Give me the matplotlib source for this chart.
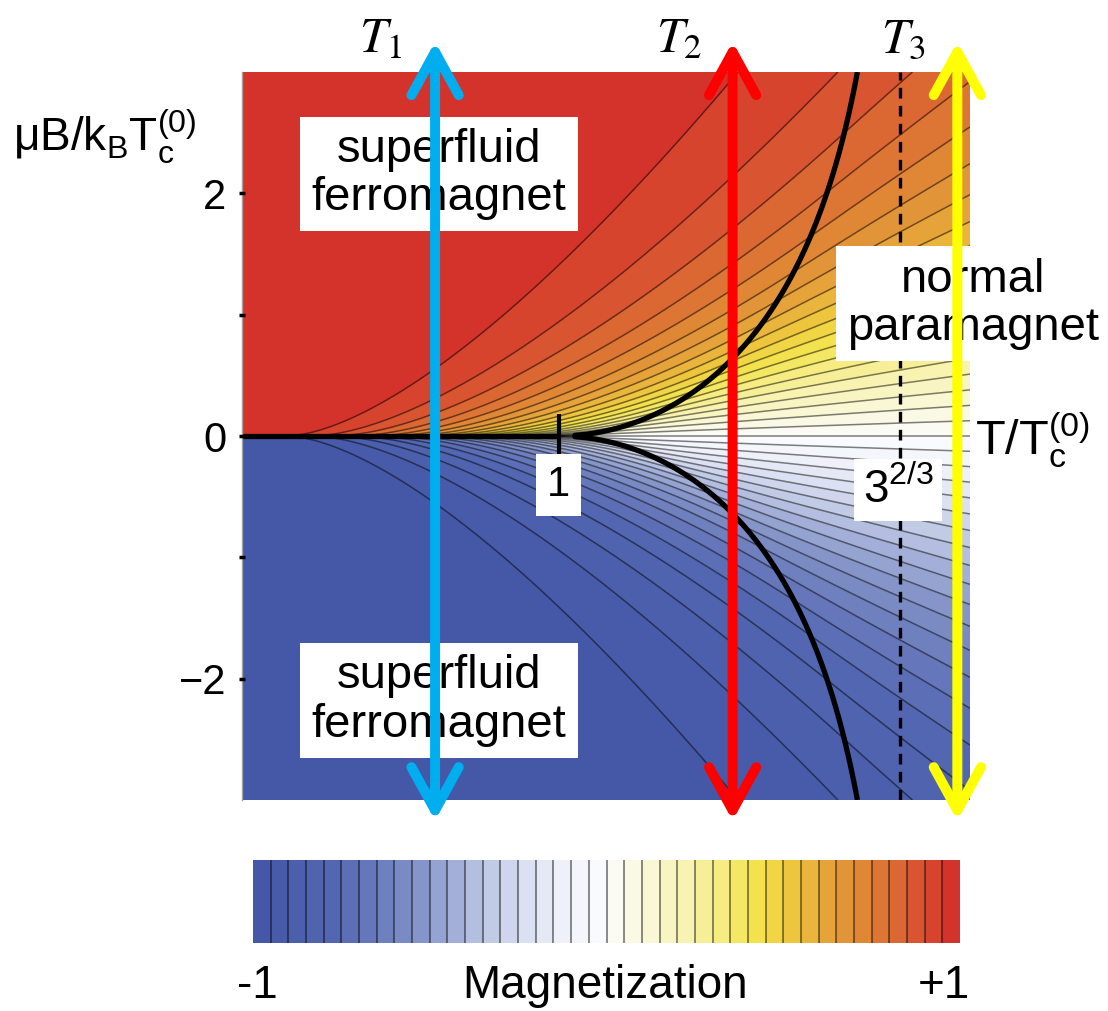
import numpy as np
import matplotlib
matplotlib.use("Agg")
import matplotlib.pyplot as plt
from matplotlib.colors import LinearSegmentedColormap, ListedColormap, BoundaryNorm
from matplotlib.patches import FancyArrowPatch, ArrowStyle

plt.rcParams["font.family"] = ["Liberation Sans", "DejaVu Sans"]

# ---- chart settings ----
t_lim = (0.0, 2.3)            # T / Tc(0)
b_lim = (-3.0, 3.0)           # muB / kB Tc(0)
n_bands = 40                  # contour bands between -1 and +1
t_inf = 3 ** (2 / 3)          # dashed line
ytick_vals = [-2, -1, 0, 1, 2]
ytick_text = ["\u22122", "", "0", "", "2"]
xtick_vals = [1]
xtick_text = ["1"]

# colorbar colours (position along bar, colour)
bar_anchors = [
    (0.00, "#4456a6"), (0.11, "#5266b2"), (0.19, "#7081bf"), (0.24, "#8797ca"),
    (0.29, "#a5b1d9"), (0.34, "#c4cce7"), (0.39, "#dce2f2"), (0.44, "#eef1fa"),
    (0.49, "#fafbfd"), (0.52, "#fbfbf0"), (0.56, "#f9f7d8"), (0.61, "#f8f3b2"),
    (0.66, "#f6ec84"), (0.71, "#f3e34e"), (0.76, "#eec93e"), (0.81, "#e6a63a"),
    (0.86, "#e08936"), (0.91, "#db6a32"), (0.96, "#d8472e"), (1.00, "#d32a2b"),
]

arrow_t = [0.61, 1.55, 2.26]
arrow_colors = ["#00aeef", "#ff0000", "#ffff00"]
arrow_names = ["$T_1$", "$T_2$", "$T_3$"]
arrow_name_t = [0.44, 1.38, 2.09]
arrow_span = (-3.17, 3.25)

phase_labels = ["superfluid\nferromagnet", "superfluid\nferromagnet", "normal\nparamagnet"]
phase_pos = [(0.623, 2.16), (0.623, -2.18), (2.31, 1.09)]

# ---- ideal spin-1 Bose gas: magnetization field ----
Z32 = 2.612375


def g32(a):
    # Bose function g_{3/2}(exp(-a)), a >= 0
    a = np.asarray(a, float)
    out = np.empty_like(a)
    lo = a < 1
    s = a[lo]
    out[lo] = (-2 * np.sqrt(np.pi * s) + Z32 + 1.4603545 * s - 0.2078862 * s ** 2 / 2
               + 0.0254852 * s ** 3 / 6 + 0.0085169 * s ** 4 / 24)
    x = np.exp(-a[~lo])
    p = x.copy()
    tot = x.copy()
    for k in range(2, 31):
        p = p * x
        tot += p / k ** 1.5
    out[~lo] = tot
    return out


t = np.linspace(0.004, t_lim[1], 460)
b = np.linspace(b_lim[0], b_lim[1], 600)
T, B = np.meshgrid(t, b)
u = np.abs(B) / T
N = 3 * Z32 * T ** -1.5
S0 = Z32 + g32(u) + g32(2 * u)
cond = N > S0

M = np.empty_like(T)
uc, Nc = u[cond], N[cond]
M[cond] = 1 - (g32(uc) + 2 * g32(2 * uc)) / Nc

un, Nn = u[~cond], N[~cond]
lo_a = np.zeros_like(un)
hi_a = np.full_like(un, 5.0)
for _ in range(45):
    mid = 0.5 * (lo_a + hi_a)
    f = g32(mid) + g32(mid + un) + g32(mid + 2 * un)
    lo_a = np.where(f > Nn, mid, lo_a)
    hi_a = np.where(f > Nn, hi_a, mid)
a = 0.5 * (lo_a + hi_a)
M[~cond] = (g32(a) - g32(a + 2 * un)) / Nn
M *= np.sign(B)

# ---- colours ----
levels = np.linspace(-1, 1, n_bands + 1)
smooth = LinearSegmentedColormap.from_list("temp", bar_anchors)
mids = 0.5 * (levels[1:] + levels[:-1])
cmap = ListedColormap([smooth((m + 1) / 2) for m in mids])
norm = BoundaryNorm(levels, cmap.N)

# ---- figure ----
fig = plt.figure(figsize=(11.08, 10.11), dpi=100)
ax = fig.add_axes([242 / 1108, 1 - 800 / 1011, 728 / 1108, 728 / 1011])

ax.contourf(T, B, M, levels=levels, cmap=cmap, norm=norm, zorder=1)
ax.contour(T, B, M, levels=levels[1:-1], colors="k", linewidths=1.1, alpha=0.5,
           linestyles="solid", zorder=2)
ax.contour(T, B, N - S0, levels=[0], colors="k", linewidths=3.8, linestyles="solid", zorder=2.2)
ax.hlines(0, t_lim[0], 1, colors="k", linewidth=3.8, zorder=2.2)
ax.axvline(t_inf, color="k", lw=2.4, ls=(0, (3.2, 2.2)), zorder=2.2)

ax.set_xlim(*t_lim)
ax.set_ylim(*b_lim)
ax.set_axisbelow(False)
for side in ["top", "right", "bottom"]:
    ax.spines[side].set_visible(False)
ax.spines["left"].set_color("#a0a0a0")
ax.spines["left"].set_linewidth(1)
ax.spines["bottom"].set_position(("data", 0))

ax.set_xticks(xtick_vals)
xl = ax.set_xticklabels(xtick_text)
ax.tick_params(axis="x", direction="inout", length=32, width=3, pad=5, labelsize=30)
for lbl in xl:
    lbl.set_bbox(dict(fc="white", ec="none", pad=8))
ax.set_yticks(ytick_vals)
ax.set_yticklabels(ytick_text)
ax.tick_params(axis="y", direction="inout", length=5, width=2.5, pad=9, labelsize=30)

for txt, (px, py) in zip(phase_labels, phase_pos):
    ax.text(px, py, txt, ha="center", va="center", fontsize=34, linespacing=1.12,
            bbox=dict(fc="white", ec="none", pad=8), zorder=4, clip_on=False)
ax.text(2.073, -0.444, r"$\mathregular{3^{2/3}}$", ha="center", va="center", fontsize=33,
        bbox=dict(fc="white", ec="none", pad=6), zorder=4)

for xt, col, name, nt in zip(arrow_t, arrow_colors, arrow_names, arrow_name_t):
    arr = FancyArrowPatch((xt, arrow_span[0]), (xt, arrow_span[1]),
                          arrowstyle=ArrowStyle("<->", head_length=31, head_width=17),
                          mutation_scale=1, lw=7.2, color=col, capstyle="round",
                          joinstyle="round", shrinkA=0, shrinkB=0, clip_on=False, zorder=5)
    ax.add_patch(arr)
    ax.text(nt, 3.27, name, ha="center", va="center", fontsize=36,
            math_fontfamily="stix", clip_on=False, zorder=5)

fig.text(13 / 1108, 1 - 137 / 1011, r"$\mathregular{\mu B/k_BT_c^{(0)}}$",
         ha="left", va="center", fontsize=33)
fig.text(975 / 1108, 1 - 440 / 1011, r"$\mathregular{T/T_c^{(0)}}$",
         ha="left", va="center", fontsize=35)

# ---- colorbar ----
cax = fig.add_axes([253 / 1108, 1 - 943 / 1011, 707 / 1108, 83 / 1011])
cax.pcolormesh(levels, [0, 1], mids[None, :], cmap=cmap, norm=norm)
cax.vlines(levels[1:-1], 0, 1, colors="k", linewidth=1.4, alpha=0.45)
cax.set_xlim(-1, 1)
cax.set_ylim(0, 1)
cax.axis("off")

fig.text(257 / 1108, 1 - 986 / 1011, "-1", ha="center", va="center", fontsize=33)
fig.text(605 / 1108, 1 - 986 / 1011, "Magnetization", ha="center", va="center", fontsize=33)
fig.text(944 / 1108, 1 - 986 / 1011, "+1", ha="center", va="center", fontsize=33)

fig.savefig("out.png", dpi=100)
